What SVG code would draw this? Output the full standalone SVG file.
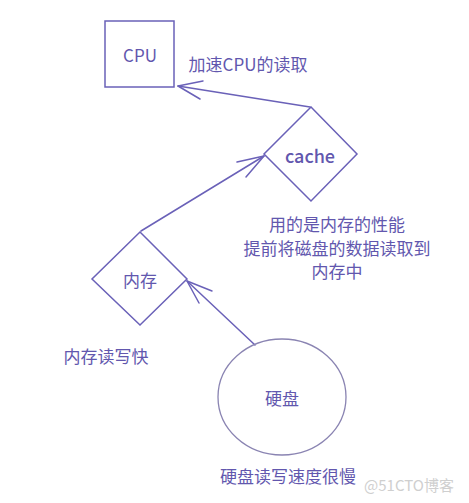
<svg xmlns="http://www.w3.org/2000/svg" width="469" height="503" viewBox="0 0 469 503">
<defs>
<style>
.t{font-family:"Noto Sans CJK SC","Noto Sans",sans-serif;font-size:17px;fill:#6257ae;}
.c{text-anchor:middle;dominant-baseline:central;}
.s{fill:none;stroke:#6a61b8;stroke-width:1.5;}
.a{fill:none;stroke:#6a61b8;stroke-width:1.5;stroke-linecap:round;stroke-linejoin:round;}
.wm{font-family:"Noto Sans CJK SC","Noto Sans",sans-serif;font-size:15px;fill:#cfcfcf;}
</style>
</defs>
<rect width="469" height="503" fill="#ffffff"/>
<g id="connectors">
<path class="a" d="M310,107 L178,86"/>
<path class="a" d="M203,81 L178,86 L200,99"/>
<path class="a" d="M141,231 L264,156"/>
<path class="a" d="M237,162 L264,156 L246,177"/>
<path class="a" d="M255,345 L187,281"/>
<path class="a" d="M212,291 L187,281 L199,303"/>
</g>
<g id="cpu">
<rect class="s" x="105" y="21" width="69" height="66"/>
<text class="t c" x="140" y="54">CPU</text>
</g>
<g id="cpu-label">
<text class="t c" x="248" y="63">加速CPU的读取</text>
</g>
<g id="cache">
<polygon class="s" points="311,107 357,154 311,201 264,154"/>
<text class="t c" x="310" y="155" style="font-size:18px;font-weight:500">cache</text>
</g>
<g id="cache-label">
<text class="t c" x="337" y="223">用的是内存的性能</text>
<text class="t c" x="337" y="247">提前将磁盘的数据读取到</text>
<text class="t c" x="337" y="270">内存中</text>
</g>
<g id="memory">
<polygon class="s" points="140,232 187,279 140,325 92,279"/>
<text class="t c" x="140" y="279">内存</text>
</g>
<g id="memory-label">
<text class="t c" x="106" y="355">内存读写快</text>
</g>
<g id="disk">
<ellipse cx="282" cy="397" rx="64" ry="58" fill="none" stroke="#8a84b2" stroke-width="1.3"/>
<text class="t c" x="282" y="397">硬盘</text>
</g>
<g id="disk-label">
<text class="t c" x="288" y="475">硬盘读写速度很慢</text>
</g>
<text class="wm c" x="409" y="484">@51CTO博客</text>
</svg>
